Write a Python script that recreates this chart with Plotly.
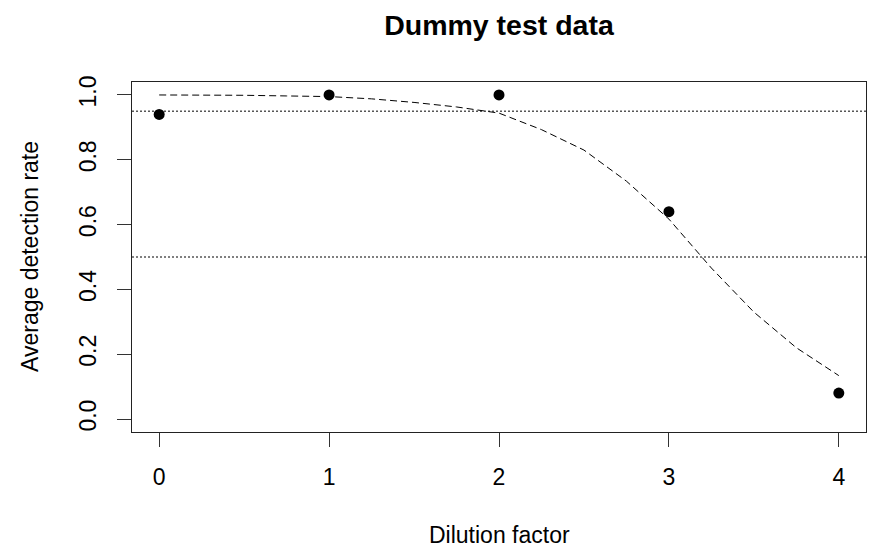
import plotly.graph_objects as go

# Observed detection rates per dilution step
dilution = [0, 1, 2, 3, 4]
detection_rate = [0.94, 1.0, 1.0, 0.64, 0.08]

# Fitted detection curve
fit_x = [0, 0.25, 0.5, 0.75, 1.0, 1.25, 1.5, 1.75, 2.0, 2.25, 2.5, 2.75, 3.0, 3.25, 3.5, 3.75, 4.0]
fit_y = [1.0, 1.0, 0.999, 0.997, 0.995, 0.988, 0.977, 0.963, 0.944, 0.893, 0.83, 0.734, 0.617, 0.466, 0.33, 0.22, 0.134]

# Reference levels
ref_levels = [0.95, 0.5]

x_ticks = [0, 1, 2, 3, 4]
y_ticks = [0.0, 0.2, 0.4, 0.6, 0.8, 1.0]
y_tick_text = ["0.0", "0.2", "0.4", "0.6", "0.8", "1.0"]

FONT = "Liberation Sans, Arial, sans-serif"

fig = go.Figure()

fig.add_trace(go.Scatter(
    x=fit_x, y=fit_y, mode="lines",
    line=dict(color="black", width=1, dash="7px,4px"),
    showlegend=False, hoverinfo="skip",
))

fig.add_trace(go.Scatter(
    x=dilution, y=detection_rate, mode="markers",
    marker=dict(color="black", size=11),
    showlegend=False,
))

for lvl in ref_levels:
    fig.add_hline(y=lvl, line=dict(color="black", width=1, dash="2px,2px"))

fig.update_layout(
    width=872, height=548,
    margin=dict(l=132, r=6, t=82, b=116),
    paper_bgcolor="white", plot_bgcolor="white",
    font=dict(family=FONT, size=23, color="black"),
    title=dict(
        text="<b>Dummy test data</b>",
        x=0.5, xref="paper", y=1 - 25 / 548, yref="container",
        xanchor="center", yanchor="middle",
        font=dict(family=FONT, size=28.5, color="black"),
    ),
    xaxis=dict(
        range=[-0.16, 4.16], tickmode="array", tickvals=x_ticks,
        ticks="outside", ticklen=14, tickwidth=1, tickcolor="#333",
        showline=True, mirror=True, linecolor="#222", linewidth=1.3,
        showgrid=False, zeroline=False, ticklabelstandoff=10,
    ),
    yaxis=dict(
        range=[-0.04, 1.04], tickmode="array", tickvals=y_ticks, ticktext=y_tick_text,
        tickangle=-90,
        ticks="outside", ticklen=14, tickwidth=1, tickcolor="#333",
        showline=True, mirror=True, linecolor="#222", linewidth=1.3,
        showgrid=False, zeroline=False, ticklabelstandoff=12,
    ),
    annotations=[
        dict(text="Dilution factor", xref="paper", yref="paper", x=0.5, y=0,
             yshift=-103, xanchor="center", yanchor="middle", showarrow=False,
             font=dict(family=FONT, size=23, color="black")),
        dict(text="Average detection rate", xref="paper", yref="paper", x=0, y=0.5,
             xshift=-102, xanchor="center", yanchor="middle", textangle=-90,
             showarrow=False, font=dict(family=FONT, size=23, color="black")),
    ],
)

fig.write_html("out.html")
